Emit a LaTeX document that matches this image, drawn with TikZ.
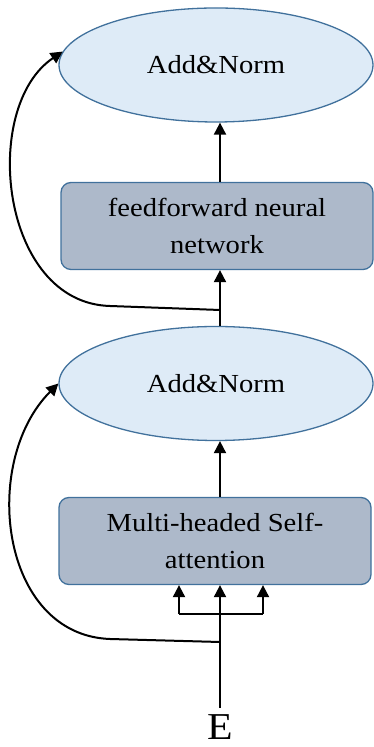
\documentclass[tikz,border=0pt]{standalone}
\usepackage{fontspec}
\setmainfont{Liberation Serif}[FakeStretch=1.1]
\usetikzlibrary{arrows.meta,shapes.geometric}
\definecolor{normfill}{HTML}{DEEBF7}
\definecolor{blockfill}{HTML}{ADB9CA}
\definecolor{edgeblue}{HTML}{41719C}

\begin{document}
\begin{tikzpicture}[x=1pt,y=1pt,
    norm/.style={ellipse, draw=edgeblue, fill=normfill, line width=1.3pt,
      minimum width=314pt, minimum height=114pt, inner sep=0pt,
      font=\fontsize{26}{30}\selectfont},
    block/.style={rectangle, rounded corners=10pt, draw=edgeblue, fill=blockfill,
      line width=1.3pt, minimum width=312pt, minimum height=87pt, align=center,
      font=\fontsize{26}{37}\selectfont},
    wire/.style={line width=2pt},
    flow/.style={wire, -{Triangle[length=12pt,width=12pt]}}]
            % Marco fijo de la figura
            \useasboundingbox (0,0) rectangle (374,747);

            % Bloques del codificador, de arriba abajo
            \node[norm]  (an1)  at (216,682) {Add\&Norm};
            \node[block] (ffn)  at (217,521) {feedforward neural\\network};
            \node[norm]  (an2)  at (216,363.5) {Add\&Norm};
            \node[block] (mhsa) at (215,206) {Multi-headed Self-\\attention};

            % Entrada E
            \node[anchor=base, inner sep=0pt,
              font=\fontsize{38}{38}\selectfont] (inp) at (220,8) {E};

            % Puntos de bifurcación
            \coordinate (s1) at (220,437);
            \coordinate (s2) at (220,105);
            \coordinate (barl) at (179,133);
            \coordinate (barr) at (263,133);

            % Camino principal
            \draw[flow, shorten <=6pt] (inp.north) -- (mhsa.south -| inp.north);
            \draw[flow] (mhsa.north -| s1) -- (an2.south -| s1);
            \draw[wire] (an2.north -| s1) -- (s1);
            \draw[flow] (s1) -- (ffn.south -| s1);
            \draw[flow] (ffn.north -| s1) -- (an1.south -| s1);

            % Q, K, V hacia la atención
            \draw[wire] (barl) -- (barr);
            \foreach \c in {barl,barr}
                \draw[flow] (\c) -- (mhsa.south -| \c);

            % Conexiones residuales
            \draw[flow] (s2) -- (110,108) .. controls (0,112) and (-20,285) .. (an2.west);
            \draw[flow] (s1) -- (110,441) .. controls (0,444) and (-20,640) .. (an1.175);
\end{tikzpicture}
\end{document}
